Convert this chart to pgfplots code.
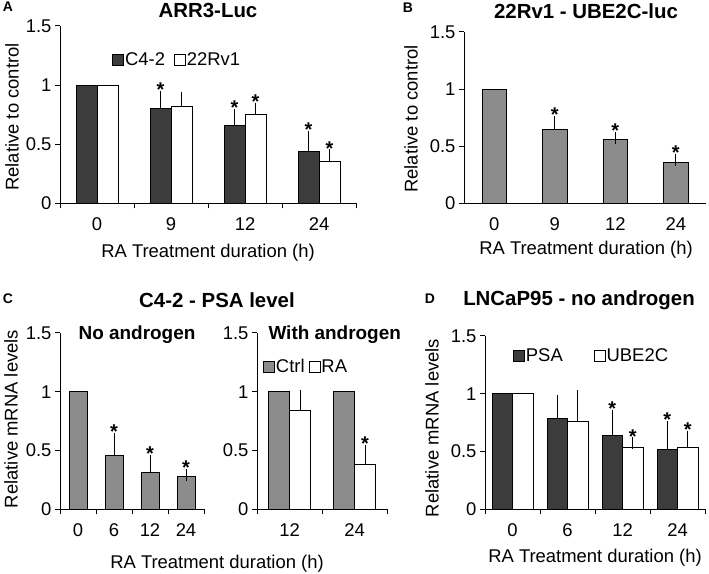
\documentclass[border=0pt]{standalone}
\usepackage{fontspec}
\setmainfont{Liberation Sans}
\usepackage{pgfplots}
\pgfplotsset{compat=1.18}
\definecolor{dk}{RGB}{60,60,60}
\definecolor{gr}{RGB}{140,140,140}
\newcommand{\fs}[1]{\fontsize{#1}{#1}\selectfont}
\pgfplotsset{
  base/.style={ybar, scale only axis, anchor=south west, axis lines*=left,
    axis line style={line width=1bp,-}, enlargelimits=false, clip=false,
    ymin=0, ymax=1.5, ytick={0,0.5,1,1.5}, yticklabels={0,0.5,1,1.5},
    tick align=outside, major tick length=5bp,
    every tick/.style={black, line width=1bp},
    tick label style={font=\fs{18.5}},
    xticklabel style={yshift=-6bp},
    /pgf/number format/assume math mode=true},
  barb/.style={bar width=#1, draw=black, line width=1bp},
  mybar/.style={barb=#1,
    error bars/y dir=plus, error bars/y explicit,
    error bars/error bar style={line width=1bp, black},
    error bars/error mark options={line width=1bp, black, mark size=6bp}},
  sq/.style={legend image code/.code={\draw[##1,/tikz/.cd, line width=0.8bp] (0bp,-5.5bp) rectangle (11bp,5.5bp);}},
  star/.style={bar width=10bp, bar shift=#1, draw=none, fill=none, forget plot,
    nodes near coords={\bfseries *},
    nodes near coords style={anchor=south, inner sep=0pt, font=\fs{20}}},
  leg/.style={legend style={draw=none, fill=none, inner sep=0pt, font=\fs{18.5},
    legend columns=-1, nodes={inner sep=1bp},
    /tikz/every even column/.append style={column sep=#1}}}
}
\begin{document}
\begin{tikzpicture}[x=1bp,y=1bp]
\useasboundingbox (0,0) rectangle (709,574);

% ---------- A ----------
\begin{axis}[base, at={(60bp,370.7bp)}, width=296bp, height=177.3bp,
  xmin=-0.5, xmax=3.5, xtick={-0.5,0.5,1.5,2.5,3.5}, x tick label as interval,
  xticklabels={0,9,12,24},
  leg=8bp, legend style={at={(axis description cs:0.176,0.808)}, anchor=west}]
\addplot[mybar=21bp, bar shift=-10.5bp, fill=dk, sq] coordinates
  {(1,0.80) +- (0,0.10) (2,0.66) +- (0,0.09) (3,0.435) +- (0,0.13)};
\addlegendentry{C4-2}
\addplot[mybar=21bp, bar shift=10.5bp, fill=white, sq] coordinates
  {(1,0.82) +- (0,0.07) (2,0.75) +- (0,0.05) (3,0.355) +- (0,0.05)};
\addlegendentry{22Rv1}
\addplot[barb=21bp, bar shift=-10.5bp, fill=dk, forget plot] coordinates {(0,1)};
\addplot[barb=21bp, bar shift=10.5bp, fill=white, forget plot] coordinates {(0,1)};
\addplot[star=-10.5bp] coordinates {(1,0.90) (2,0.75) (3,0.565)};
\addplot[star=10.5bp] coordinates {(2,0.80) (3,0.405)};
\end{axis}

% ---------- B ----------
\begin{axis}[base, at={(464bp,370.7bp)}, width=242bp, height=171.3bp,
  xmin=-0.5, xmax=3.5, xtick={0,1,2,3}, xticklabels={0,9,12,24},
  xtick style={draw=none}]
\addplot[mybar=24.5bp, bar shift=0bp, fill=gr] coordinates
  {(1,0.65) +- (0,0.065) (2,0.56) +- (0,0.015) (3,0.356) +- (0,0.025)};
\addplot[barb=24.5bp, bar shift=0bp, fill=gr, forget plot] coordinates {(0,1)};
\addplot[star=0bp] coordinates {(1,0.715) (2,0.575) (3,0.381)};
\end{axis}

% ---------- C left ----------
\begin{axis}[base, at={(60bp,64.7bp)}, width=144bp, height=176.3bp,
  xmin=-0.5, xmax=3.5, xtick={-0.5,0.5,1.5,2.5,3.5}, x tick label as interval,
  xticklabels={0,6,12,24}]
\addplot[mybar=18bp, bar shift=0bp, fill=gr] coordinates
  {(1,0.456) +- (0,0.145) (2,0.31) +- (0,0.10) (3,0.28) +- (0,0.012)};
\addplot[barb=18bp, bar shift=0bp, fill=gr, forget plot] coordinates {(0,1)};
\addplot[star=0bp] coordinates {(1,0.601) (2,0.41) (3,0.292)};
\end{axis}

% ---------- C right ----------
\begin{axis}[base, at={(257bp,64.7bp)}, width=130bp, height=176.3bp,
  xmin=-0.5, xmax=1.5, xtick={-0.5,0.5,1.5}, x tick label as interval,
  xticklabels={12,24},
  leg=3bp, legend style={at={(axis description cs:0.046,0.807)}, anchor=west}]
\addplot[barb=21bp, bar shift=-10.5bp, fill=gr, sq] coordinates
  {(0,1) (1,1)};
\addlegendentry{Ctrl}
\addplot[mybar=21bp, bar shift=10.5bp, fill=white, sq] coordinates
  {(0,0.84) +- (0,0.125) (1,0.385) +- (0,0.115)};
\addlegendentry{RA}
\addplot[star=10.5bp] coordinates {(1,0.50)};
\end{axis}

% ---------- D ----------
\begin{axis}[base, at={(485bp,64.7bp)}, width=220bp, height=173.3bp,
  xmin=-0.5, xmax=3.5, xtick={-0.5,0.5,1.5,2.5,3.5}, x tick label as interval,
  xticklabels={0,6,12,24},
  leg=30bp, legend style={at={(axis description cs:0.127,0.885)}, anchor=west}]
\addplot[mybar=20.5bp, bar shift=-10.25bp, fill=dk, sq] coordinates
  {(1,0.79) +- (0,0.15) (2,0.64) +- (0,0.17) (3,0.52) +- (0,0.195)};
\addlegendentry{PSA}
\addplot[mybar=20.5bp, bar shift=10.25bp, fill=white, sq] coordinates
  {(1,0.76) +- (0,0.22) (2,0.535) +- (0,0.035) (3,0.535) +- (0,0.095)};
\addlegendentry{UBE2C}
\addplot[barb=20.5bp, bar shift=-10.25bp, fill=dk, forget plot] coordinates {(0,1)};
\addplot[barb=20.5bp, bar shift=10.25bp, fill=white, forget plot] coordinates {(0,1)};
\addplot[star=-10.25bp] coordinates {(2,0.81) (3,0.715)};
\addplot[star=10.25bp] coordinates {(2,0.57) (3,0.63)};
\end{axis}

% ---------- texts ----------
\node[font=\fs{14}\bfseries] at (8,567) {A};
\node[font=\fs{14}\bfseries] at (408,566) {B};
\node[font=\fs{14}\bfseries] at (8,275) {C};
\node[font=\fs{14}\bfseries] at (430,275) {D};
\node[font=\fs{20.5}\bfseries] at (208,564) {ARR3-Luc};
\node[font=\fs{20.5}\bfseries] at (586,563) {22Rv1 - UBE2C-luc};
\node[font=\fs{20.5}\bfseries] at (217,274) {C4-2 - PSA level};
\node[font=\fs{20.5}\bfseries] at (579,274) {LNCaP95 - no androgen};
\node[font=\fs{19}\bfseries] at (137,239) {No androgen};
\node[font=\fs{19}\bfseries, anchor=west] at (265,239) {With androgen};
\node[font=\fs{18.5}, anchor=base] at (208,316) {RA Treatment duration (h)};
\node[font=\fs{18.5}, anchor=base] at (586,319) {RA Treatment duration (h)};
\node[font=\fs{18.5}, anchor=base] at (217,5) {RA Treatment duration (h)};
\node[font=\fs{18.5}, anchor=base] at (595,11) {RA Treatment duration (h)};
\node[font=\fs{18.5}, rotate=90] at (12,457) {Relative to control};
\node[font=\fs{18.5}, rotate=90] at (411,455) {Relative to control};
\node[font=\fs{18.5}, rotate=90] at (11,155) {Relative mRNA levels};
\node[font=\fs{18.5}, rotate=90] at (432,146) {Relative mRNA levels};
\end{tikzpicture}
\end{document}
